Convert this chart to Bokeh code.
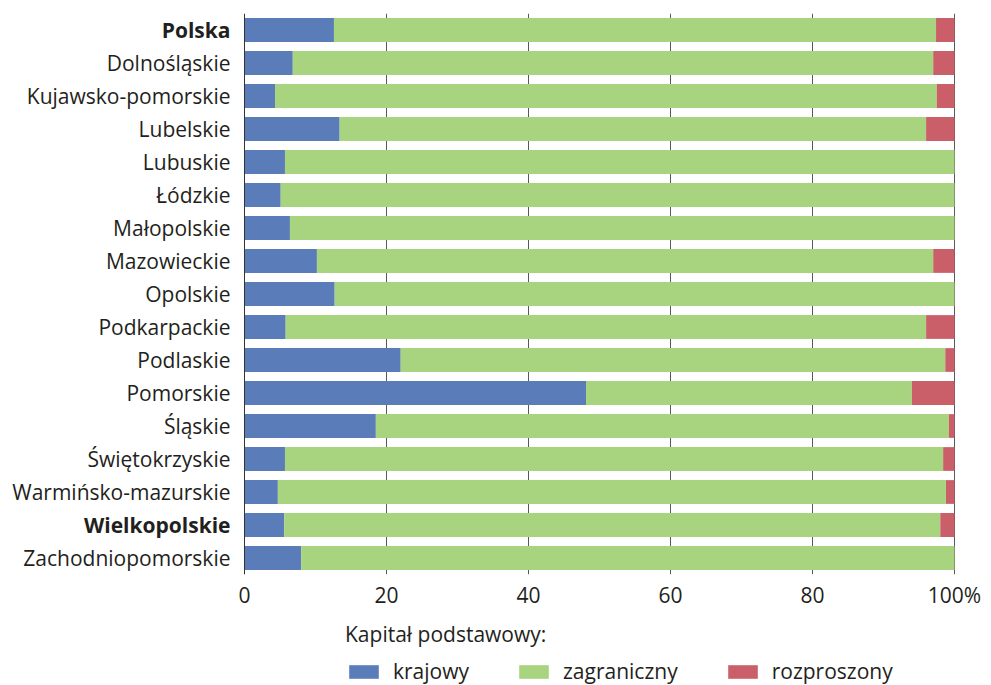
from bokeh.plotting import figure
from bokeh.models import (ColumnDataSource, Range1d, FixedTicker, Legend, LegendItem, Span)
from bokeh.core.properties import value
from bokeh.layouts import column
from bokeh.embed import file_html
from bokeh.resources import INLINE

regions = ["Polska", "Dolnośląskie", "Kujawsko-pomorskie", "Lubelskie", "Lubuskie",
           "Łódzkie", "Małopolskie", "Mazowieckie", "Opolskie", "Podkarpackie",
           "Podlaskie", "Pomorskie", "Śląskie", "Świętokrzyskie",
           "Warmińsko-mazurskie", "Wielkopolskie", "Zachodniopomorskie"]
bold_regions = ["Polska", "Wielkopolskie"]

krajowy = [12.6, 6.8, 4.3, 13.4, 5.7, 5.1, 6.4, 10.2, 12.7, 5.8,
           22.0, 48.1, 18.5, 5.7, 4.7, 5.6, 8.0]
zagraniczny = [84.8, 90.2, 93.2, 82.6, 94.3, 94.9, 93.6, 86.8, 87.3, 90.2,
               76.7, 45.9, 80.7, 92.7, 94.1, 92.4, 92.0]
rozproszony = [2.6, 3.0, 2.5, 4.0, 0.0, 0.0, 0.0, 3.0, 0.0, 4.0,
               1.3, 6.0, 0.8, 1.6, 1.2, 2.0, 0.0]

series_names = ["krajowy", "zagraniczny", "rozproszony"]
colors = ["#5a7dba", "#a9d47f", "#cb5f69"]
x_ticks = [0, 20, 40, 60, 80, 100]
x_tick_labels = ["0", "20", "40", "60", "80", "100%"]
legend_title = "Kapitał podstawowy:"

FONT = "Open Sans"
TXT = "#231f20"
FS = "21px"

W = 991
LEFT = 244          # pixel of value 0
PLOT_W = 710        # pixels for 0..100
px = PLOT_W / 100.0

pos = list(range(len(regions)))
styles = ["bold" if r in bold_regions else "normal" for r in regions]
source = ColumnDataSource(dict(y=pos, label=regions, style=styles,
                               krajowy=krajowy, zagraniczny=zagraniczny,
                               rozproszony=rozproszony))

p = figure(width=W, height=620, output_backend="svg", toolbar_location=None,
           x_range=Range1d(-LEFT / px, (W - LEFT) / px),
           y_range=Range1d(len(regions) - 0.5, -0.5),
           min_border_left=0, min_border_right=0, min_border_top=13,
           min_border_bottom=46)
p.outline_line_color = None
p.background_fill_color = "white"

# grid
p.xgrid.ticker = FixedTicker(ticks=x_ticks[1:])
p.xgrid.grid_line_color = "#595959"
p.xgrid.grid_line_width = 1
p.ygrid.grid_line_color = None

renderers = p.hbar_stack(series_names, y="y", height=0.72, color=colors,
                         line_color=None, source=source)

# vertical axis line at 0
p.add_layout(Span(location=0, dimension="height", line_color="#333333", line_width=1))

# category labels
p.text(x=0, y="y", text="label", source=source, x_offset=-14,
       text_align="right", text_baseline="middle", text_font=value(FONT),
       text_font_size=value(FS), text_font_style="style", text_color=TXT)

p.yaxis.visible = False

# x axis
p.xaxis.ticker = FixedTicker(ticks=x_ticks)
p.xaxis.major_label_overrides = {t: l for t, l in zip(x_ticks, x_tick_labels)}
p.xaxis.axis_line_color = None
p.xaxis.major_tick_line_color = None
p.xaxis.minor_tick_line_color = None
p.xaxis.major_label_text_font = FONT
p.xaxis.major_label_text_font_size = FS
p.xaxis.major_label_text_color = TXT
p.xaxis.major_label_standoff = 0

# legend figure (same bars, kept out of its visible range; only the legend shows)
q = figure(width=W, height=65, output_backend="svg", toolbar_location=None,
           x_range=Range1d(0, 100), y_range=Range1d(1000, 1001),
           min_border_left=0, min_border_right=0, min_border_top=0,
           min_border_bottom=0)
q.outline_line_color = None
q.axis.visible = False
q.grid.grid_line_color = None
leg_r = q.hbar_stack(series_names, y="y", height=0.72, color=colors,
                     line_color=None, source=source)
leg = Legend(items=[LegendItem(label=n, renderers=[r]) for n, r in zip(series_names, leg_r)],
             location=(345, 0), orientation="horizontal",
             glyph_width=37, glyph_height=17, label_standoff=11,
             padding=0, margin=0, spacing=46,
             border_line_color=None, background_fill_alpha=0,
             label_text_font=FONT, label_text_font_size=FS,
             label_text_color=TXT,
             title=legend_title, title_text_font=FONT, title_text_font_size=FS,
             title_text_font_style="normal", title_text_color=TXT,
             title_standoff=9)
q.add_layout(leg, "center")

layout = column(p, q, spacing=0)
open("out.html", "w").write(file_html(layout, INLINE))
